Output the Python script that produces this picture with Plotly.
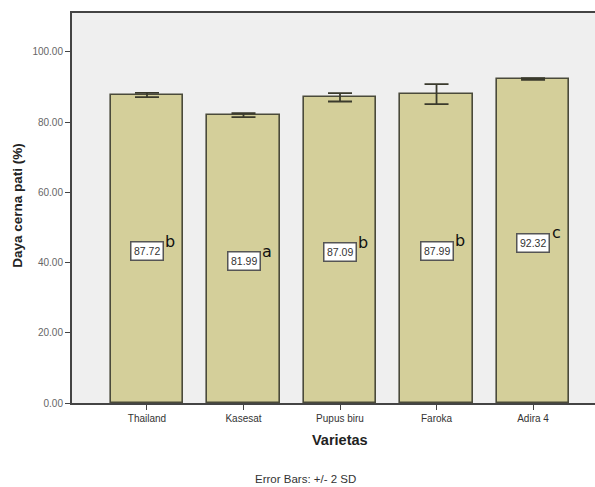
import plotly.graph_objects as go

# Mean starch digestibility per variety, with +/- 2 SD and significance letters
varieties = ["Thailand", "Kasesat", "Pupus biru", "Faroka", "Adira 4"]
means = [87.72, 81.99, 87.09, 87.99, 92.32]
two_sd = [0.6, 0.55, 1.2, 2.85, 0.25]
letters = ["b", "a", "b", "b", "c"]
y_ticks = [0, 20, 40, 60, 80, 100]

fig = go.Figure()

fig.add_trace(go.Bar(
    x=list(range(len(varieties))),
    y=means,
    width=0.75,
    marker=dict(color="#d4cf9a", line=dict(color="#4a4a3a", width=1.6)),
    error_y=dict(type="data", array=two_sd, visible=True,
                 color="#3a3a2c", thickness=1.8, width=12),
    hoverinfo="skip",
))

annotations = []
for i, (m, letter) in enumerate(zip(means, letters)):
    # value box at half bar height
    annotations.append(dict(
        x=i, y=m / 2, xref="x", yref="y", yshift=-2,
        text=f"{m:.2f}", showarrow=False,
        font=dict(family="Arial, Liberation Sans", size=10.5, color="#333333"),
        bgcolor="#ffffff", bordercolor="#555555", borderwidth=1.5, borderpad=2.5,
    ))
    # significance letter to the upper right of the box
    annotations.append(dict(
        x=i, y=m / 2, xref="x", yref="y", xshift=23, yshift=8,
        text=letter, showarrow=False,
        font=dict(family="DejaVu Sans", size=16, color="#111111"),
    ))

annotations += [
    dict(x=18, y=206, xref="paper", yref="paper", text="<b>Daya cerna pati (%)</b>",
         showarrow=False, textangle=-90,
         font=dict(family="Arial, Liberation Sans", size=13.5, color="#222222")),
    dict(x=340, y=441, text="<b>Varietas</b>", showarrow=False,
         font=dict(family="Arial, Liberation Sans", size=14.5, color="#222222")),
    dict(x=305, y=480, text="Error Bars: +/- 2 SD", showarrow=False,
         font=dict(family="Arial, Liberation Sans", size=11.5, color="#333333")),
]

# convert pixel-positioned labels to paper coordinates
L, T, B, R = 72, 13, 83.5, 0
W, H = 595, 487
pw, ph = W - L - R, H - T - B
for a in annotations:
    if a.get("xref") == "x":
        continue
    a["xref"] = "paper"
    a["yref"] = "paper"
    a["x"] = (a["x"] - L) / pw
    a["y"] = (H - B - a["y"]) / ph
    a["xanchor"] = "center"
    a["yanchor"] = "middle"

fig.update_layout(
    width=W, height=H,
    margin=dict(l=L, r=R, t=T, b=B),
    paper_bgcolor="#ffffff",
    plot_bgcolor="#efefef",
    showlegend=False,
    bargap=0,
    annotations=annotations,
    xaxis=dict(
        range=[-0.777, 4.642],
        tickvals=list(range(len(varieties))),
        ticktext=varieties,
        ticks="outside", ticklen=5, tickwidth=1.2, tickcolor="#444444",
        tickfont=dict(family="Arial, Liberation Sans", size=10, color="#333333"),
        showline=True, linecolor="#444444", linewidth=2, mirror=True,
        showgrid=False, zeroline=False, fixedrange=True,
    ),
    yaxis=dict(
        range=[0, 111.1],
        tickvals=y_ticks,
        tickformat=".2f",
        ticks="outside", ticklen=5, tickwidth=1.2, tickcolor="#444444",
        tickfont=dict(family="Arial, Liberation Sans", size=10, color="#666666"),
        showline=True, linecolor="#444444", linewidth=2,
        showgrid=False, zeroline=False, fixedrange=True,
    ),
)

fig.write_html("out.html")
